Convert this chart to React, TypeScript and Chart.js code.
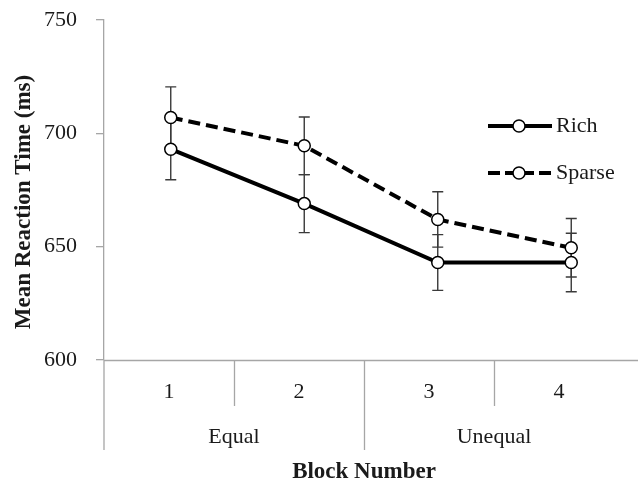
import React, { useEffect, useRef } from "react";
import { Chart, registerables } from "chart.js";

Chart.register(...registerables);

const blockLabels = ["1", "2", "3", "4"];
const groupLabels = ["Equal", "Unequal"];
const richValues = [693, 669, 643, 643];
const sparseValues = [707, 694.5, 662, 649.5];
const richErrors = [13.5, 12.8, 12.3, 12.9];
const sparseErrors = [13.5, 12.7, 12.2, 12.9];
const yTicks = [600, 650, 700, 750];
const yTitle = "Mean Reaction Time (ms)";
const xTitle = "Block Number";

const SERIF = '"Liberation Serif", "Times New Roman", serif';
const AXIS = "#a6a6a6";
const TEXT = "#1a1a1a";

const errorBarPlugin = {
  id: "errorBars",
  beforeDatasetsDraw(chart: any) {
    const ctx = chart.ctx;
    const x = chart.scales.x;
    const y = chart.scales.y;
    const sets = [
      { v: richValues, e: richErrors },
      { v: sparseValues, e: sparseErrors },
    ];
    ctx.save();
    ctx.strokeStyle = "#3a3a3a";
    ctx.lineWidth = 1.4;
    sets.forEach((s) => {
      s.v.forEach((val, i) => {
        const px = x.getPixelForValue(i);
        const top = y.getPixelForValue(val + s.e[i]);
        const bot = y.getPixelForValue(val - s.e[i]);
        ctx.beginPath();
        ctx.moveTo(px, top);
        ctx.lineTo(px, bot);
        ctx.moveTo(px - 5.5, top);
        ctx.lineTo(px + 5.5, top);
        ctx.moveTo(px - 5.5, bot);
        ctx.lineTo(px + 5.5, bot);
        ctx.stroke();
      });
    });
    ctx.restore();
  },
};

const decorPlugin = {
  id: "decor",
  afterDraw(chart: any) {
    const ctx = chart.ctx;
    const area = chart.chartArea;
    const left = area.left;
    const bottom = area.bottom;
    const cat = 130;
    ctx.save();
    // x axis line
    ctx.strokeStyle = AXIS;
    ctx.lineWidth = 1.3;
    ctx.beginPath();
    ctx.moveTo(left, bottom + 0.5);
    ctx.lineTo(chart.width, bottom + 0.5);
    ctx.stroke();
    // separators
    ctx.beginPath();
    ctx.moveTo(left, bottom);
    ctx.lineTo(left, bottom + 90);
    for (let i = 1; i < blockLabels.length; i++) {
      const sx = Math.round(left + i * cat) + 0.5;
      const len = i % 2 === 0 ? 90 : 46;
      ctx.moveTo(sx, bottom);
      ctx.lineTo(sx, bottom + len);
    }
    ctx.stroke();
    // tick labels
    ctx.fillStyle = TEXT;
    ctx.font = `22px ${SERIF}`;
    ctx.textAlign = "center";
    ctx.textBaseline = "middle";
    blockLabels.forEach((l, i) => {
      ctx.fillText(l, left + (i + 0.5) * cat, bottom + 32);
    });
    groupLabels.forEach((g, i) => {
      ctx.fillText(g, left + (i + 0.5) * cat * 2, bottom + 77);
    });
    // x title
    ctx.font = `bold 23px ${SERIF}`;
    ctx.fillText(xTitle, left + 2 * cat, bottom + 112);
    // y title
    ctx.save();
    ctx.translate(24, 202);
    ctx.rotate(-Math.PI / 2);
    ctx.fillText(yTitle, 0, 0);
    ctx.restore();
    // legend
    const items = [
      { label: "Rich", dash: [] as number[], y: 126 },
      { label: "Sparse", dash: [12, 5], y: 173 },
    ];
    items.forEach((it) => {
      ctx.strokeStyle = "#000";
      ctx.lineWidth = 4;
      ctx.setLineDash(it.dash);
      ctx.beginPath();
      ctx.moveTo(488, it.y);
      ctx.lineTo(552, it.y);
      ctx.stroke();
      ctx.setLineDash([]);
      ctx.beginPath();
      ctx.arc(519, it.y, 6, 0, Math.PI * 2);
      ctx.fillStyle = "#fff";
      ctx.fill();
      ctx.lineWidth = 1.5;
      ctx.stroke();
      ctx.fillStyle = TEXT;
      ctx.font = `22px ${SERIF}`;
      ctx.textAlign = "left";
      ctx.textBaseline = "middle";
      ctx.fillText(it.label, 556, it.y);
    });
    ctx.restore();
  },
};

export default function App() {
  const ref = useRef<HTMLCanvasElement | null>(null);
  useEffect(() => {
    if (!ref.current) return;
    const chart = new Chart(ref.current, {
      type: "line",
      data: {
        labels: blockLabels,
        datasets: [
          {
            label: "Rich",
            data: richValues,
            borderColor: "#000",
            borderWidth: 4,
            pointRadius: 6,
            pointBackgroundColor: "#fff",
            pointBorderColor: "#000",
            pointBorderWidth: 1.5,
            tension: 0,
          },
          {
            label: "Sparse",
            data: sparseValues,
            borderColor: "#000",
            borderWidth: 4,
            borderDash: [12, 6],
            pointRadius: 6,
            pointBackgroundColor: "#fff",
            pointBorderColor: "#000",
            pointBorderWidth: 1.5,
            tension: 0,
          },
        ],
      },
      options: {
        animation: false,
        responsive: false,
        devicePixelRatio: 1,
        layout: { autoPadding: false, padding: { top: 20, bottom: 120, left: 0, right: 0 } },
        plugins: {
          legend: { display: false },
          tooltip: { enabled: false },
        },
        scales: {
          x: {
            type: "category",
            offset: true,
            display: false,
          },
          y: {
            min: 600,
            max: 750,
            afterFit(scale: any) {
              scale.width = 104;
              scale.paddingTop = 0;
              scale.paddingBottom = 0;
            },
            afterBuildTicks(scale: any) {
              scale.ticks = yTicks.map((v) => ({ value: v }));
            },
            ticks: {
              padding: 19,
              color: TEXT,
              font: { family: SERIF, size: 22 },
            },
            grid: {
              drawOnChartArea: false,
              drawTicks: true,
              tickLength: 8,
              color: AXIS,
              lineWidth: 1.3,
            },
            border: { color: AXIS, width: 1.3 },
          },
        },
      },
      plugins: [errorBarPlugin, decorPlugin],
    } as any);
    return () => chart.destroy();
  }, []);
  return (
    <div style={{ position: "fixed", left: 0, top: 0, width: 638, height: 480, background: "#fff" }}>
      <canvas ref={ref} width={638} height={480} style={{ width: 638, height: 480 }} />
    </div>
  );
}
